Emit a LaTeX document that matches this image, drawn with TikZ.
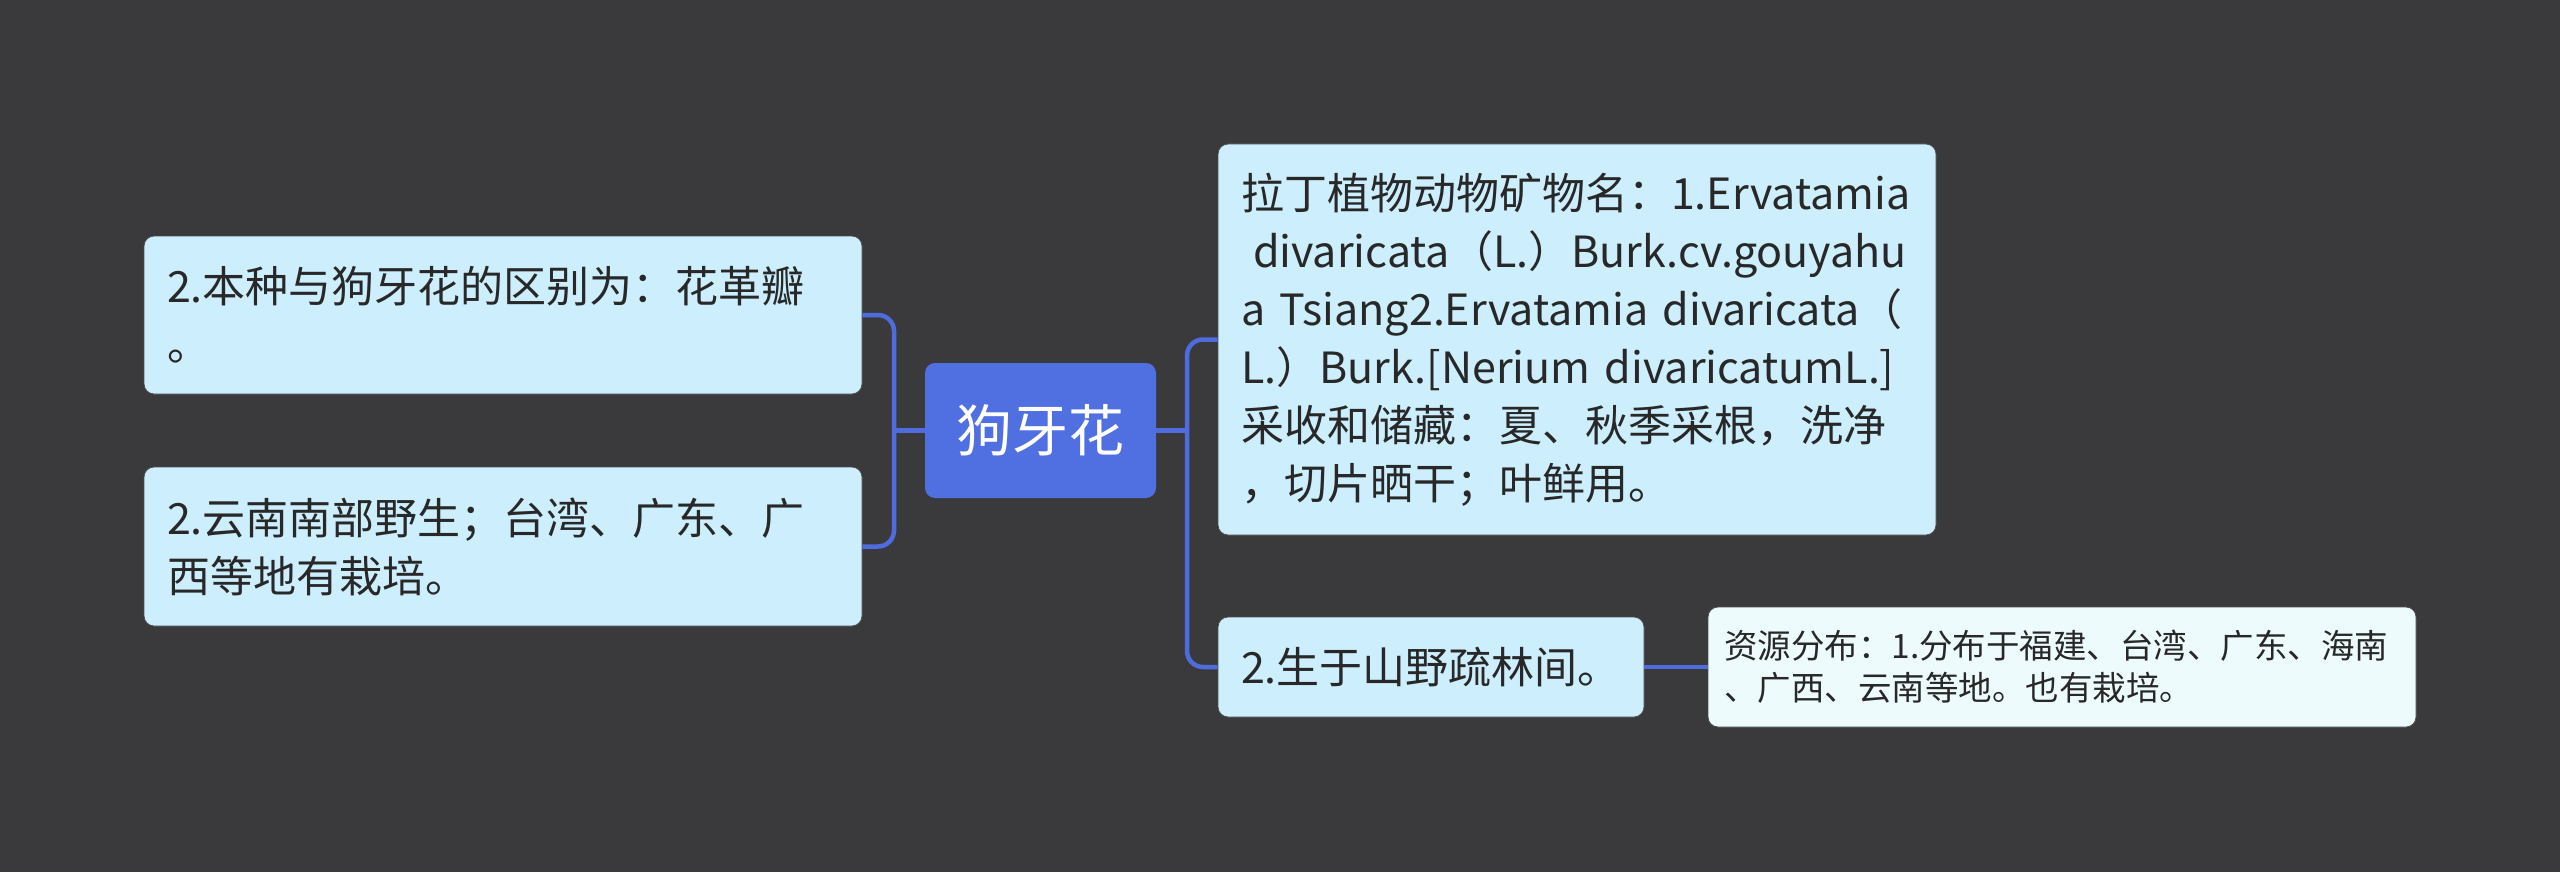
\documentclass[tikz,border=0pt]{standalone}
\usepackage{fontspec}
\setmainfont{Noto Sans CJK SC}
\definecolor{bgc}{RGB}{58,57,59}
\definecolor{rootc}{RGB}{80,112,226}
\definecolor{childc}{RGB}{204,238,253}
\definecolor{leafc}{RGB}{238,251,253}
\definecolor{linec}{RGB}{79,108,222}
\definecolor{txtc}{RGB}{40,40,40}
\tikzset{
  rootbox/.style={fill=rootc, rounded corners=10pt, minimum width=231pt, minimum height=135pt,
    inner sep=0pt, text=white, font=\fontsize{56}{66}\selectfont},
  childbox/.style={fill=childc, draw=black!70, line width=0.8pt, rounded corners=10pt, inner ysep=0pt,
    inner xsep=23pt, align=left, text=txtc, font=\fontsize{43}{58}\selectfont},
  leafbox/.style={fill=leafc, draw=black!70, line width=0.8pt, rounded corners=10pt, inner ysep=0pt,
    inner xsep=16pt, align=left, text=txtc, font=\fontsize{33.5}{42}\selectfont},
  conn/.style={draw=linec, line width=4.5pt, rounded corners=16pt},
}
\begin{document}
\begin{tikzpicture}[x=1pt,y=-1pt]
\useasboundingbox (0,0) rectangle (2560,872);
\fill[bgc] (0,0) rectangle (2560,872);

\node[rootbox] (root) at (1040.5,430.5) {狗牙花};

\node[childbox, text width=672pt, minimum height=158pt] (l1) at (503,315)
  {2.本种与狗牙花的区别为：花革瓣\\。};
\node[childbox, text width=672pt, minimum height=159pt] (l2) at (503,546.5)
  {2.云南南部野生；台湾、广东、广\\西等地有栽培。};

\node[childbox, text width=672pt, minimum height=391pt] (n1) at (1577,339.5)
  {拉丁植物动物矿物名：1.Ervatamia\\
   \hspace*{12pt}divaricata（L.）Burk.cv.gouyahu\\
   a Tsiang2.Ervatamia divaricata（\\
   L.）Burk.[Nerium divaricatumL.]\\
   采收和储藏：夏、秋季采根，洗净\\
   ，切片晒干；叶鲜用。};
\node[childbox, text width=380pt, minimum height=100pt] (n2) at (1431,667)
  {2.生于山野疏林间。};

\node[leafbox, text width=676pt, minimum height=120pt] (leaf) at (2062,667)
  {资源分布：1.分布于福建、台湾、广东、海南\\、广西、云南等地。也有栽培。};

\coordinate (bl) at (894,430.5);
\coordinate (br) at (1187,430.5);

\draw[conn] (l1.east) -| (bl) |- (l2.east);
\draw[conn] (root.west) -- (bl);
\draw[conn] (n1.west) -| (br) |- (n2.west);
\draw[conn] (root.east) -- (br);
\draw[conn] (n2.east) -- (leaf.west);
\end{tikzpicture}
\end{document}
